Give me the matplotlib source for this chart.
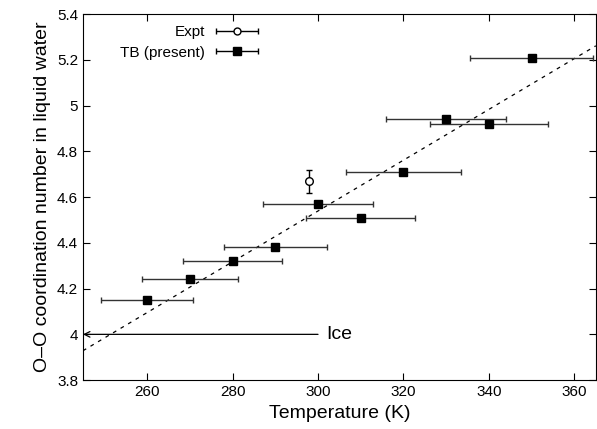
import numpy as np
import matplotlib
matplotlib.use("Agg")
import matplotlib.pyplot as plt
from matplotlib.legend_handler import HandlerErrorbar

# TB (present) data
tb_temp = [260, 270, 280, 290, 300, 310, 320, 330, 340, 350]
tb_coord = [4.15, 4.24, 4.32, 4.38, 4.57, 4.51, 4.71, 4.94, 4.92, 5.21]
tb_terr = [10.7, 11.3, 11.6, 12.0, 12.8, 12.7, 13.5, 14.1, 13.7, 14.4]

# experiment
expt_temp = [298]
expt_coord = [4.67]
expt_err = [0.05]

ice_coord = 4.0
ice_label_temp = 300

plt.rcParams['font.family'] = ['Liberation Sans', 'DejaVu Sans']

fig = plt.figure(figsize=(5.97, 4.29), dpi=100)
ax = fig.add_axes([0.139, 0.114, 0.859, 0.853])

# linear fit of the TB points (dashed line)
fit = np.polyfit(tb_temp, tb_coord, 1)
xx = np.linspace(245, 365, 100)
ax.plot(xx, np.polyval(fit, xx), color='black', linestyle=(0, (3, 4)), linewidth=0.9)

ax.errorbar(tb_temp, tb_coord, xerr=tb_terr, fmt='s', color='black', ms=6,
            ecolor='#333333', elinewidth=1.0, capsize=2.5, capthick=1.0)
ax.errorbar(expt_temp, expt_coord, yerr=expt_err, fmt='o', color='black', ms=5.5,
            mfc='white', ecolor='black', elinewidth=1.0, capsize=2.5, capthick=1.0)

# proxies for the legend (horizontal bars, gnuplot style)
h1 = ax.errorbar([np.nan], [np.nan], xerr=[1], fmt='o', color='black', ms=5,
                 mfc='white', elinewidth=1.0, capsize=2.5, label='Expt')
h2 = ax.errorbar([np.nan], [np.nan], xerr=[1], fmt='s', color='black', ms=6,
                 elinewidth=1.0, capsize=2.5, label='TB (present)')
ax.legend(handles=[h1, h2], loc='upper right', bbox_to_anchor=(0.366, 1.0),
          frameon=False, markerfirst=False, fontsize=11, handlelength=3.0,
          handletextpad=0.6, labelspacing=0.45, borderaxespad=0.3,
          handler_map={type(h1): HandlerErrorbar(xerr_size=1.35)})

# Ice arrow
ax.annotate('', xy=(245, ice_coord), xytext=(ice_label_temp, ice_coord),
            arrowprops=dict(arrowstyle='->', color='black', lw=0.9,
                            shrinkA=0, shrinkB=0))
ax.text(ice_label_temp + 2, ice_coord, 'Ice', fontsize=14, va='center', ha='left')

ax.set_xlim(245, 365)
ax.set_ylim(3.8, 5.4)
ax.set_xticks([260, 280, 300, 320, 340, 360])
ax.set_yticks([3.8, 4.0, 4.2, 4.4, 4.6, 4.8, 5.0, 5.2, 5.4])
ax.set_yticklabels(['3.8', '4', '4.2', '4.4', '4.6', '4.8', '5', '5.2', '5.4'])
ax.tick_params(direction='in', top=True, right=True, labelsize=11, length=5)
ax.set_xlabel('Temperature (K)', fontsize=14)
ax.set_ylabel('O–O coordination number in liquid water', fontsize=14)

fig.savefig('out.png', dpi=100)
